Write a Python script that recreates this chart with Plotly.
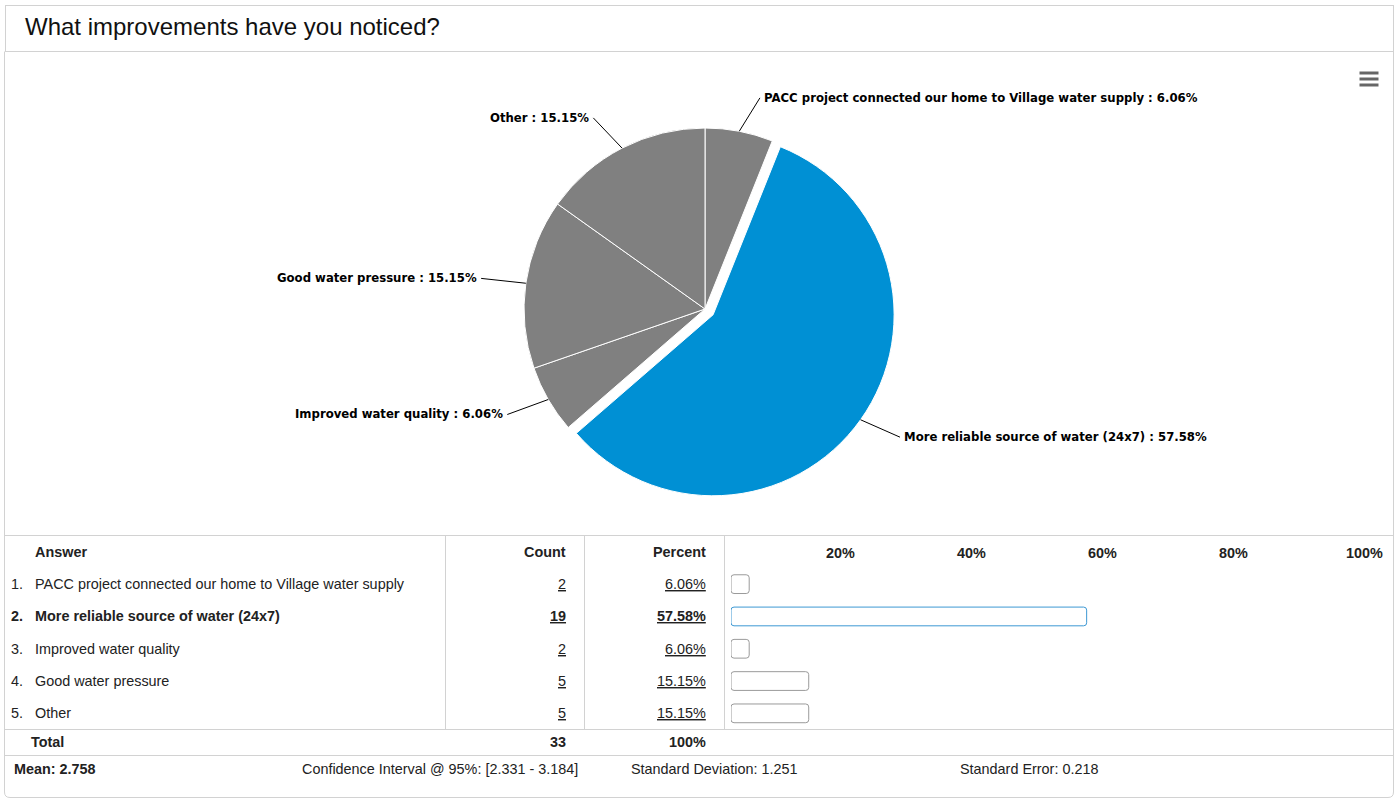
import math
import plotly.graph_objects as go

# ---- survey data -------------------------------------------------------
answers = [
    "PACC project connected our home to Village water supply",
    "More reliable source of water (24x7)",
    "Improved water quality",
    "Good water pressure",
    "Other",
]
counts = [2, 19, 2, 5, 5]
percents = [6.06, 57.58, 6.06, 15.15, 15.15]
total_count = 33
total_percent = "100%"
tick_values = [20, 40, 60, 80, 100]
tick_labels = ["20%", "40%", "60%", "80%", "100%"]
stats = [
    "<b>Mean: 2.758</b>",
    "Confidence Interval @ 95%: [2.331 - 3.184]",
    "Standard Deviation: 1.251",
    "Standard Error: 0.218",
]
question = "What improvements have you noticed?"

# ---- styling -----------------------------------------------------------
W, H = 1396, 799
GRAY = "#808080"
BLUE = "#0090D4"
BORDER = "#d2d2d2"
TEXT = "#222222"
TABLE_FONT = "Liberation Sans, Arial, sans-serif"
LABEL_FONT = "DejaVu Sans, Verdana, sans-serif"
TABLE_SIZE = 14.4

top = max(range(len(counts)), key=lambda i: counts[i])
slice_colors = [BLUE if i == top else GRAY for i in range(len(counts))]
pulls = [0.055 if i == top else 0 for i in range(len(counts))]


def fx(x):
    return x / W


def fy(y):
    return 1 - y / H


# ---- pie ---------------------------------------------------------------
CX, CY, R = 705, 309, 181
half = R * (1 + max(pulls))

fig = go.Figure()
fig.add_trace(go.Pie(
    values=counts,
    labels=answers,
    sort=False,
    direction="clockwise",
    rotation=0,
    textinfo="none",
    pull=pulls,
    marker=dict(colors=slice_colors, line=dict(color="white", width=1)),
    domain=dict(x=[fx(CX - half), fx(CX + half)], y=[fy(CY + half), fy(CY - half)]),
    showlegend=False,
    hovertemplate="%{label}: %{value}<extra></extra>",
))

# outside labels with connectors, placed from each slice's mid angle
annotations = []
total = sum(counts)
acc = 0.0
for i, c in enumerate(counts):
    frac = c / total
    mid = math.radians((acc + frac / 2) * 360)
    acc += frac
    s, co = math.sin(mid), math.cos(mid)
    off = R * pulls[i]
    cx, cy = CX + off * s, CY - off * co
    ex, ey = cx + R * s, cy - R * co
    side = 1 if s >= 0 else -1
    lx = cx + (R + 30) * s + 15 * side
    ly = cy - (R + 30) * co - 4 * max(co, 0)
    annotations.append(dict(
        x=fx(ex), y=fy(ey), xref="paper", yref="paper",
        ax=lx - ex, ay=ly - ey, axref="pixel", ayref="pixel",
        text=f"<b>{answers[i]} : {percents[i]:.2f}%</b>",
        showarrow=True, arrowhead=0, arrowwidth=1, arrowcolor="#000000",
        standoff=0, startstandoff=0, borderpad=3,
        xanchor="left" if side > 0 else "right", yanchor="middle",
        font=dict(family=LABEL_FONT, size=11.7, color="#000000"),
    ))

# ---- percentage bars ---------------------------------------------------
ZERO_PX, PX_PER_PCT = 709.5, 6.55
BAR_LEFT_PX, BAR_RIGHT_PX = 731, 1386
axis_start = (BAR_LEFT_PX - ZERO_PX) / PX_PER_PCT
axis_end = (BAR_RIGHT_PX - ZERO_PX) / PX_PER_PCT
ROW_TOP, ROW_BOTTOM = 568, 729.5

rows = list(range(len(answers)))
fig.add_trace(go.Bar(
    y=rows,
    x=[p - axis_start for p in percents],
    base=axis_start,
    orientation="h",
    width=0.58,
    marker=dict(
        color="white",
        line=dict(color=["#3d98d3" if i == top else "#9a9a9a" for i in rows], width=1),
        cornerradius=3,
    ),
    showlegend=False,
    hovertemplate="%{customdata}<extra></extra>",
    customdata=[f"{p:.2f}%" for p in percents],
))

# ---- table text --------------------------------------------------------
COUNT_RIGHT, PCT_RIGHT = 566, 706


def txt(x, y, text, anchor="left", yref="paper", size=TABLE_SIZE, bold=False):
    t = f"<b>{text}</b>" if bold else text
    annotations.append(dict(
        x=fx(x), y=y if yref == "y" else fy(y), xref="paper", yref=yref,
        text=t, showarrow=False, xanchor=anchor, yanchor="middle",
        borderpad=0, borderwidth=0,
        font=dict(family=TABLE_FONT, size=size, color=TEXT),
    ))


# question title
annotations.append(dict(
    x=fx(25), y=fy(27), xref="paper", yref="paper", text=question,
    showarrow=False, xanchor="left", yanchor="middle",
    borderpad=0, borderwidth=0,
    font=dict(family=TABLE_FONT, size=24, color="#111111"),
))

txt(35, 552, "Answer", bold=True)
txt(COUNT_RIGHT, 552, "Count", anchor="right", bold=True)
txt(PCT_RIGHT, 552, "Percent", anchor="right", bold=True)

for i in rows:
    b = i == top
    txt(11, i, f"{i + 1}.", yref="y", bold=b)
    txt(35, i, answers[i], yref="y", bold=b)
    txt(COUNT_RIGHT, i, f"<u>{counts[i]}</u>", anchor="right", yref="y", bold=b)
    txt(PCT_RIGHT, i, f"<u>{percents[i]:.2f}%</u>", anchor="right", yref="y", bold=b)

txt(31, 742, "Total", bold=True)
txt(COUNT_RIGHT, 742, str(total_count), anchor="right", bold=True)
txt(PCT_RIGHT, 742, total_percent, anchor="right", bold=True)

for x, s in zip([14, 302, 631, 960], stats):
    txt(x, 769, s)

# ---- frame lines -------------------------------------------------------
shapes = []


def hline(y, x0=4, x1=1394):
    shapes.append(dict(type="line", xref="paper", yref="paper",
                       x0=fx(x0), x1=fx(x1), y0=fy(y), y1=fy(y),
                       line=dict(color=BORDER, width=1)))


def vline(x, y0, y1):
    shapes.append(dict(type="line", xref="paper", yref="paper",
                       x0=fx(x), x1=fx(x), y0=fy(y0), y1=fy(y1),
                       line=dict(color=BORDER, width=1)))


hline(5.5, 5, 1394)
hline(51.5, 5, 1394)
vline(5.5, 5, 51.5)
vline(1393.5, 5, 51.5)
vline(4.5, 51.5, 792)
vline(1393.5, 51.5, 792)
hline(535.5)
for x in (445.5, 584.5, 724.5):
    vline(x, 535.5, 729.5)
hline(729.5)
hline(755.5)
# rounded bottom edge of the panel
shapes.append(dict(
    type="path", xref="paper", yref="paper",
    path=(f"M {fx(4.5)},{fy(792)} Q {fx(4.5)},{fy(797.5)} {fx(10)},{fy(797.5)} "
          f"L {fx(1388)},{fy(797.5)} Q {fx(1393.5)},{fy(797.5)} {fx(1393.5)},{fy(792)}"),
    line=dict(color=BORDER, width=1),
))

# context-menu icon
for y in (73, 79, 85):
    shapes.append(dict(type="line", xref="paper", yref="paper",
                       x0=fx(1359.5), x1=fx(1378.5), y0=fy(y), y1=fy(y),
                       line=dict(color="#666666", width=3)))

fig.update_layout(
    width=W, height=H,
    margin=dict(l=0, r=0, t=0, b=0),
    paper_bgcolor="white", plot_bgcolor="white",
    xaxis=dict(
        domain=[fx(BAR_LEFT_PX), fx(BAR_RIGHT_PX)],
        range=[axis_start, axis_end],
        side="top",
        tickvals=tick_values, ticktext=tick_labels,
        tickfont=dict(family=TABLE_FONT, size=TABLE_SIZE, color=TEXT, weight="bold"),
        ticklabelstandoff=6,
        showgrid=False, zeroline=False, showline=False, ticks="",
        fixedrange=True,
    ),
    yaxis=dict(
        domain=[fy(ROW_BOTTOM), fy(ROW_TOP)],
        range=[len(answers) - 0.5, -0.5],
        visible=False, fixedrange=True,
    ),
    annotations=annotations,
    shapes=shapes,
)

fig.write_html("out.html")
